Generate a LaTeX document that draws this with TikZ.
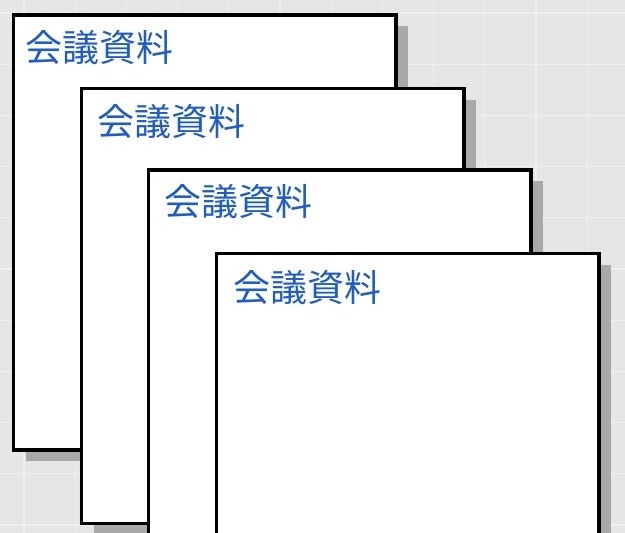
\documentclass[tikz,border=0pt]{standalone}
\usepackage{fontspec}
\newfontfamily\cjk{Noto Sans CJK JP}
\definecolor{bgc}{HTML}{E5E5E5}
\definecolor{gridc}{HTML}{F0F0F0}
\definecolor{shadc}{HTML}{A9A9A9}
\definecolor{txtc}{RGB}{28,92,204}
\tikzset{
  pagebox/.style={draw=black, fill=white, line width=3.5pt},
  pageshadow/.style={fill=shadc},
  pagetitle/.style={anchor=base west, inner sep=0pt, text=txtc, font=\cjk\fontsize{37}{40}\selectfont},
  gridline/.style={draw=gridc, line width=1.2pt}
}
\begin{document}
\begin{tikzpicture}[x=1pt,y=-1pt]
\useasboundingbox (0,0) rectangle (625,533);
\clip (0,0) rectangle (625,533);
\fill[bgc] (0,0) rectangle (625,533);
\foreach \i in {0,...,12} \draw[gridline] (24+51.2*\i,0) -- ++(0,533);
\foreach \j in {0,...,10} \draw[gridline] (0,13+51.2*\j) -- ++(625,0);
\foreach \px/\py/\tx/\ty/\n in {13.5/15/25/61/1, 81.5/88.5/97/135/2, 148.5/170/164/215/3, 216.5/253.5/233/301/4}{
  \fill[pageshadow] (\px+12,\py+11) rectangle ++(382.5,435);
  \draw[pagebox] (\px,\py) rectangle ++(382.5,435);
  \node[pagetitle] (t\n) at (\tx,\ty) {会議資料};
}
\end{tikzpicture}
\end{document}
